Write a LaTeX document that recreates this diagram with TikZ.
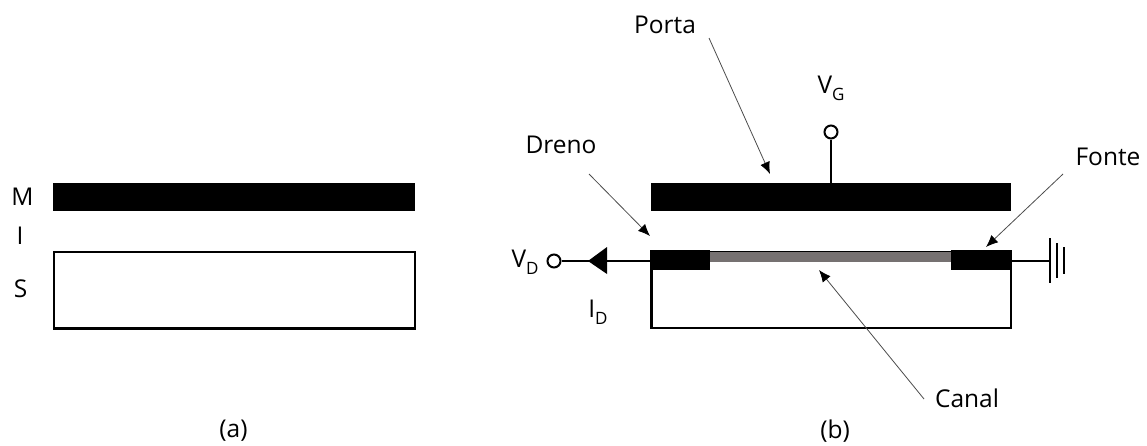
\documentclass[tikz,border=0pt]{standalone}
\usepackage{fontspec}
\setmainfont{Open Sans}
\usetikzlibrary{arrows.meta}
\definecolor{chan}{HTML}{767171}
\newcommand{\subs}[1]{\raisebox{-0.28em}{\fontsize{17}{20}\selectfont #1}}
\tikzset{
  lbl/.style={inner sep=0pt,font=\fontsize{24.5}{29}\selectfont,text=black},
  wire/.style={line width=2pt,draw=black},
  semi/.style={line width=2.2pt,draw=black,fill=white},
  pointer/.style={line width=0.8pt,draw=black!70,-{Latex[length=12pt,width=10pt,black]}},
  term/.style={circle,draw=black,line width=2pt,fill=white,minimum size=13pt,inner sep=0pt}
}
\begin{document}
\begin{tikzpicture}[x=1pt,y=-1pt]
\useasboundingbox (0,0) rectangle (1147,445);
% (a)
\fill[black] (53,183) rectangle (415,211);
\draw[semi] (54,252) rectangle (415,328.5);
\node[lbl] (M) at (22.5,197) {M};
\node[lbl] (I) at (20,236) {I};
\node[lbl] (S) at (20.5,289) {S};
\node[lbl] (a) at (233.5,431) {(a)};
% (b)
\fill[black] (650.5,183) rectangle (1011,211);
\draw[semi] (651.5,252) rectangle (1011,328);
\fill[chan] (710,252) rectangle (951,262);
\fill[black] (650,250) rectangle (710,270);
\fill[black] (951,250) rectangle (1012,270);
\coordinate (gate) at (831,183);
\coordinate (drain) at (650,261);
\coordinate (source) at (1011,261);
\coordinate (gnd) at (1050,261);
\node[term] (vg) at (831,132) {};
\node[term] (vd) at (554,261) {};
\draw[wire] (vg) -- (gate);
\draw[wire] (vd) -- (drain);
\coordinate (tritip) at (588,261);
\fill[black] (tritip) -- (607,247) -- (607,274) -- cycle;
\draw[wire] (source) -- (gnd);
\draw[wire] (1050,238) -- (1050,283);
\draw[wire] (1056.5,243) -- (1056.5,278);
\draw[wire] (1064,247) -- (1064,274);
\node[lbl] (porta) at (665,25) {Porta};
\node[lbl] (dreno) at (561,145) {Dreno};
\node[lbl] (fonte) at (1108,157) {Fonte};
\node[lbl] (canal) at (967,398) {Canal};
\node[lbl] (b) at (835,431) {(b)};
\node[lbl] (VG) at (831,88) {V\subs{G}};
\node[lbl] (VD) at (525,262) {V\subs{D}};
\node[lbl] (ID) at (598,312) {I\subs{D}};
\coordinate (p1) at (709,38); \coordinate (p2) at (770,174);
\coordinate (d1) at (589,174); \coordinate (d2) at (650,236);
\coordinate (f1) at (1063,174); \coordinate (f2) at (986,247);
\coordinate (c1) at (924,399); \coordinate (c2) at (819,270);
\draw[pointer] (p1) -- (p2);
\draw[pointer] (d1) -- (d2);
\draw[pointer] (f1) -- (f2);
\draw[pointer] (c1) -- (c2);
\end{tikzpicture}
\end{document}
